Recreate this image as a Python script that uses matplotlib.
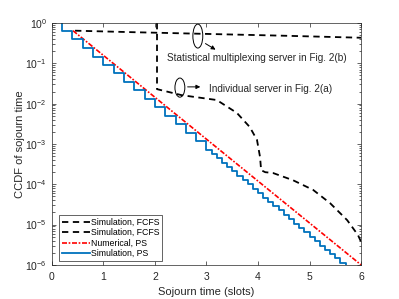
"""CCDF of sojourn time: FCFS vs PS"""

import numpy as np
import matplotlib
matplotlib.use("Agg")
import matplotlib.pyplot as plt
from matplotlib.patches import Ellipse

plt.rcParams['font.family'] = ['Liberation Sans', 'DejaVu Sans']
plt.rcParams['mathtext.default'] = 'regular'

# Statistical multiplexing server, FCFS (log10 of CCDF)
mux_x = [0.45, 1.5, 3.0, 4.5, 6.0]
mux_log = [-0.19, -0.225, -0.27, -0.315, -0.365]

# Individual server, FCFS
ind_x = [2.04, 2.04, 2.52, 3.20, 3.59, 3.84, 3.98, 4.04, 4.06, 4.14, 4.29,
         4.68, 5.07, 5.40, 5.73, 5.94, 6.0]
ind_log = [0.0, -1.64, -1.79, -1.91, -2.23, -2.58, -2.90, -3.33, -3.65, -3.70,
           -3.72, -3.90, -4.14, -4.47, -4.89, -5.26, -5.43]

# Numerical, PS
num_x = [0.41, 6.0]
num_log = [-0.19, -6.0]

# Simulation, PS (staircase)
sim_x = [0.2, 0.2, 0.4, 0.6, 0.8, 1.0, 1.2, 1.4, 1.6, 1.8, 2.0, 2.2, 2.4, 2.6,
         2.8, 3.0, 3.1, 3.2, 3.3, 3.4, 3.5, 3.6, 3.7, 3.8, 3.9, 4.0, 4.1, 4.2,
         4.3, 4.4, 4.5, 4.6, 4.7, 4.8, 4.9, 5.0, 5.1, 5.2, 5.3, 5.4, 5.5, 5.6,
         5.7]
sim_log = [0.0, -0.19, -0.40, -0.63, -0.84, -1.04, -1.25, -1.46, -1.67, -1.88,
           -2.09, -2.30, -2.51, -2.72, -2.93, -3.14, -3.25, -3.36, -3.46, -3.57,
           -3.68, -3.79, -3.90, -4.00, -4.11, -4.22, -4.33, -4.44, -4.54, -4.65,
           -4.76, -4.87, -4.98, -5.08, -5.19, -5.30, -5.41, -5.52, -5.62, -5.73,
           -5.84, -5.95, -6.06]

labels = ['Simulation, FCFS', 'Simulation, FCFS', 'Numerical, PS', 'Simulation, PS']

fig = plt.figure(figsize=(3.99, 2.99), dpi=100)
ax = fig.add_axes([0.13, 0.114, 0.775, 0.809])

ax.plot(mux_x, 10 ** np.array(mux_log), color='k', ls=(0, (3.5, 2.5)), lw=1.3, label=labels[0])
ax.plot(ind_x, 10 ** np.array(ind_log), color='k', ls=(0, (3.5, 2.5)), lw=1.3, label=labels[1])
ax.plot(num_x, 10 ** np.array(num_log), color='red', ls=(0, (3, 1, 1, 1)), lw=1.2, label=labels[2])
ax.step(sim_x, 10 ** np.array(sim_log), where='post', color='#0072BD', lw=1.3, label=labels[3])

ax.set_yscale('log')
ax.set_xlim(0, 6)
ax.set_ylim(1e-6, 1)
ax.set_xticks(range(7))
ax.set_yticks([10.0 ** k for k in range(-6, 1)])
ax.tick_params(which='both', direction='in', top=True, right=True,
               colors='#262626', labelsize=7.5, width=0.5)
ax.tick_params(which='major', length=3)
ax.tick_params(which='minor', length=1.8)
ax.tick_params(axis='x', pad=5)
for s in ax.spines.values():
    s.set_color('#262626')
    s.set_linewidth(0.5)
ax.set_xlabel('Sojourn time (slots)', fontsize=8, color='#262626', labelpad=4)
ax.set_ylabel('CCDF of sojourn time', fontsize=8, color='#262626', labelpad=0)

leg = ax.legend(loc='lower left', fontsize=6.3, handlelength=3.2, handletextpad=0.1,
                borderpad=0.3, labelspacing=0.15, fancybox=False, framealpha=1,
                borderaxespad=0.5, bbox_to_anchor=(0.01, 0.0))
leg.get_frame().set_edgecolor('#262626')
leg.get_frame().set_linewidth(0.5)

# annotations
ax.add_patch(Ellipse((0.472, 0.946), 0.032, 0.099, transform=ax.transAxes,
                     fill=False, ec='k', lw=0.7))
ax.add_patch(Ellipse((0.414, 0.733), 0.032, 0.079, transform=ax.transAxes,
                     fill=False, ec='k', lw=0.7))
ax.annotate('', xy=(0.537, 0.884), xytext=(0.489, 0.921), xycoords='axes fraction',
            arrowprops=dict(arrowstyle='-|>', color='k', lw=0.7, mutation_scale=6))
ax.annotate('', xy=(0.489, 0.736), xytext=(0.430, 0.736), xycoords='axes fraction',
            arrowprops=dict(arrowstyle='-|>', color='k', lw=0.7, mutation_scale=6))
ax.text(0.372, 0.855, 'Statistical multiplexing server in Fig. 2(b)', transform=ax.transAxes,
        fontsize=7.2, va='center', ha='left', color='#262626')
ax.text(0.508, 0.727, 'Individual server in Fig. 2(a)', transform=ax.transAxes,
        fontsize=7.2, va='center', ha='left', color='#262626')

fig.savefig('out.png', dpi=100)
